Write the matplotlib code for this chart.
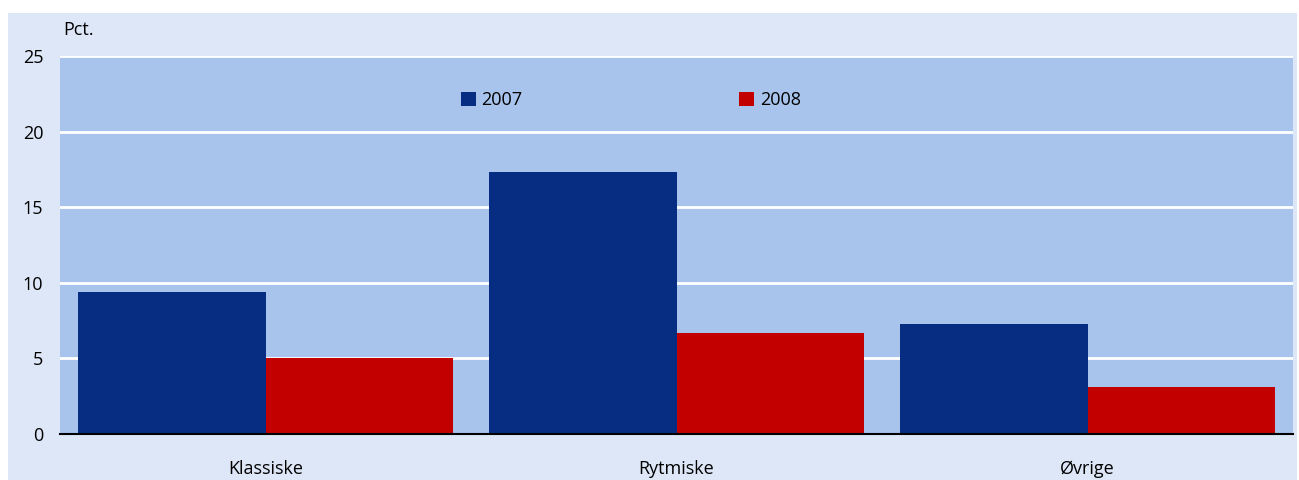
import matplotlib
matplotlib.use("Agg")
import matplotlib.pyplot as plt
import numpy as np
from matplotlib.patches import Rectangle

categories = ["Klassiske", "Rytmiske", "Øvrige"]
series_names = ["2007", "2008"]
values_2007 = [9.4, 17.3, 7.3]
values_2008 = [5.0, 6.7, 3.1]
yticks = [0, 5, 10, 15, 20, 25]

plt.rcParams['font.family'] = ['Open Sans', 'DejaVu Sans']

W, H = 1299, 480
fig = plt.figure(figsize=(W / 100, H / 100), dpi=100)
fig.patch.set_facecolor("white")
bg = Rectangle((8 / W, 0), (1297 - 8) / W, (480 - 13) / H,
               transform=fig.transFigure, facecolor="#DEE7F7",
               edgecolor="none", zorder=-10)
fig.add_artist(bg)

ax = fig.add_axes([60 / W, (H - 434) / H, (1293 - 60) / W, (434 - 56) / H])
ax.set_zorder(1)
ax.set_facecolor("#A8C3EC")

x = np.arange(len(categories))
bw = 0.455
ax.bar(x - bw / 2, values_2007, width=bw, color="#062D82", label=series_names[0], zorder=3)
ax.bar(x + bw / 2, values_2008, width=bw, color="#C20000", label=series_names[1], zorder=3)

ax.set_xlim(-0.5, 2.5)
ax.set_ylim(0, 25)
ax.set_yticks(yticks)
ax.set_xticks(x)
ax.set_xticklabels(categories)
ax.yaxis.grid(True, color="white", linewidth=2)
ax.set_axisbelow(True)
for s in ["top", "right", "left"]:
    ax.spines[s].set_visible(False)
ax.spines["bottom"].set_color("black")
ax.spines["bottom"].set_linewidth(1.5)
ax.spines["bottom"].set_zorder(4)
ax.tick_params(axis="both", length=0, labelsize=13, colors="black")
ax.tick_params(axis="y", pad=12)
ax.tick_params(axis="x", pad=19)

fig.text(63 / W, (H - 30) / H, "Pct.", fontsize=13, ha="left", va="center")

leg = ax.legend(loc="center", bbox_to_anchor=(0.463, 0.884), ncol=2, frameon=False,
                fontsize=13, handlelength=0.83, handleheight=0.83, handletextpad=0.3,
                columnspacing=12)

fig.savefig("out.png", dpi=100, facecolor=fig.get_facecolor())
